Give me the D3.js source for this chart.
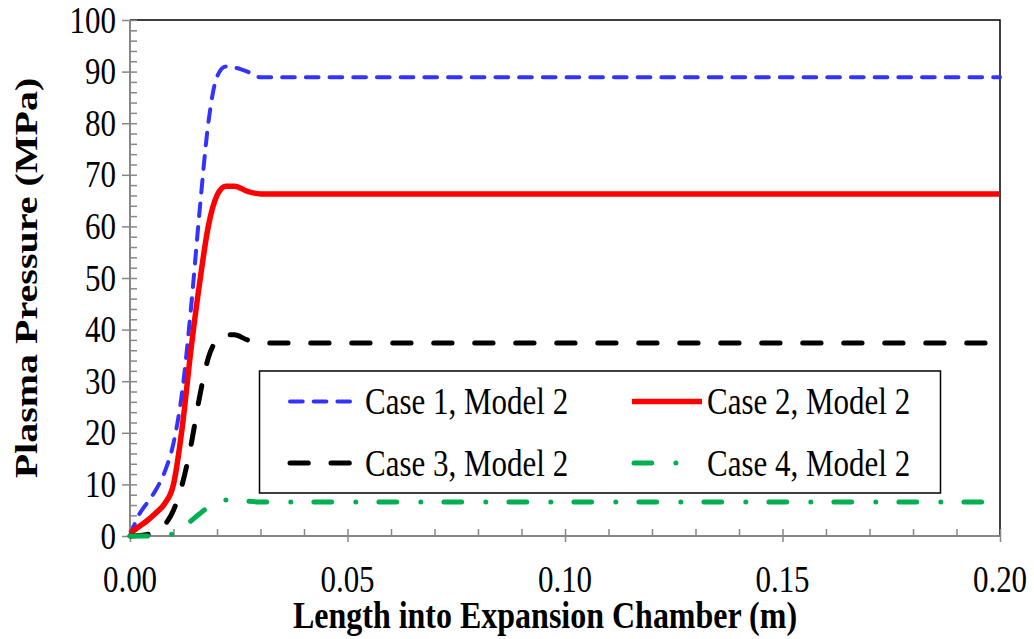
<!DOCTYPE html>
<html><head><meta charset="utf-8">
<script src="https://cdn.jsdelivr.net/npm/d3@7"></script>
<style>body{margin:0;background:#fff}svg{display:block}</style>
</head><body>
<svg id="c" width="1034" height="639"></svg>
<script>
// ---- data ----
const seriesNames = ["Case 1, Model 2", "Case 2, Model 2", "Case 3, Model 2", "Case 4, Model 2"];
const case1X = [0, 0.002, 0.004, 0.006, 0.008, 0.010, 0.012, 0.014, 0.016, 0.018, 0.020, 0.022, 0.024, 0.027, 0.030, 0.20];
const case1Y = [0, 4, 6.5, 9, 12.5, 18, 28, 44, 63, 80, 89, 91, 90.8, 90, 88.9, 88.9];
const case2X = [0, 0.002, 0.004, 0.006, 0.008, 0.010, 0.012, 0.014, 0.016, 0.018, 0.020, 0.022, 0.024, 0.027, 0.030, 0.20];
const case2Y = [0.5, 1.8, 3, 4.5, 6.3, 10, 21, 36, 49, 60, 66, 67.8, 67.8, 66.8, 66.3, 66.3];
const case3X = [0, 0.004, 0.006, 0.008, 0.010, 0.012, 0.014, 0.016, 0.018, 0.020, 0.022, 0.024, 0.027, 0.030, 0.20];
const case3Y = [0, 0.3, 1, 2.2, 5, 10, 17.5, 27, 34.5, 38, 39, 39, 38, 37.4, 37.4];
const case4X = [0, 0.008, 0.010, 0.012, 0.014, 0.016, 0.018, 0.020, 0.022, 0.025, 0.030, 0.20];
const case4Y = [0, 0, 0.5, 1.6, 2.9, 4.3, 5.6, 6.6, 7, 6.9, 6.6, 6.6];
const xTickValues = [0, 0.05, 0.10, 0.15, 0.20];
const xTickLabels = ["0.00", "0.05", "0.10", "0.15", "0.20"];
const yTickValues = [0, 10, 20, 30, 40, 50, 60, 70, 80, 90, 100];
const yTickLabels = ["0", "10", "20", "30", "40", "50", "60", "70", "80", "90", "100"];
const xTitle = "Length into Expansion Chamber (m)";
const yTitle = "Plasma Pressure (MPa)";

// ---- layout / styles ----
const svg = d3.select("#c");
const L = 130, R = 1000, T = 20, B = 536;
const x = d3.scaleLinear().domain([0, 0.2]).range([L, R]);
const y = d3.scaleLinear().domain([0, 100]).range([B, T]);
const axisColor = "#878787";
const font = "'Liberation Serif','Times New Roman',serif";
const SY = 1.2; // vertical stretch of text as in reference

const styles = [
  {color: "#3333ff", width: 4, dash: "12.7,11", cap: "round"},
  {color: "#ff0000", width: 5.5, dash: null, cap: "butt"},
  {color: "#000000", width: 5, dash: "18.3,22.7", cap: "round"},
  {color: "#00b050", width: 5, dash: "17.7,24.2,0,23.1", cap: "round"}
];

// plot border (top/right)
svg.append("path").attr("d", `M${L},${T}H${R}V${B}`).attr("fill", "none")
  .attr("stroke", "#000").attr("stroke-width", 1.5);

// axes
const gx = svg.append("g").attr("transform", `translate(0,${B})`);
gx.append("g").call(d3.axisTop(x).tickValues(d3.range(0, 0.2001, 0.01)).tickSize(7).tickFormat(""));
gx.append("g").call(d3.axisBottom(x).tickValues(xTickValues).tickSize(6).tickFormat(""));
const gy = svg.append("g").attr("transform", `translate(${L},0)`);
gy.append("g").call(d3.axisRight(y).tickValues(d3.range(0, 101, 2)).tickSize(7).tickFormat(""));
gy.append("g").call(d3.axisLeft(y).tickValues(yTickValues).tickSize(8).tickFormat(""));
svg.selectAll(".domain").attr("stroke", axisColor).attr("stroke-width", 1.8);
svg.selectAll(".tick line").attr("stroke", axisColor).attr("stroke-width", 1.5);
svg.selectAll(".domain").filter(function(){return this.parentNode.parentNode===gx.node();}).attr("d", `M${L},0H${R}`);
svg.selectAll(".domain").filter(function(){return this.parentNode.parentNode===gy.node();}).attr("d", `M0,${B}V${T}`);

// tick labels
svg.append("g").selectAll("text").data(xTickValues).join("text")
  .attr("transform", d => `translate(${x(d)},592) scale(1,${SY})`)
  .attr("text-anchor", "middle").attr("font-family", font).attr("font-size", 31)
  .text((d, i) => xTickLabels[i]);
svg.append("g").selectAll("text").data(yTickValues).join("text")
  .attr("transform", d => `translate(116,${y(d)}) scale(1,${SY})`)
  .attr("dy", "0.34em")
  .attr("text-anchor", "end").attr("font-family", font).attr("font-size", 31)
  .text((d, i) => yTickLabels[i]);

// axis titles
svg.append("text").attr("transform", `translate(545,628) scale(1,${SY})`)
  .attr("text-anchor", "middle").attr("font-family", font).attr("font-size", 32)
  .attr("font-weight", "bold").text(xTitle);
svg.append("text").attr("transform", `translate(37,${(T + B) / 2}) rotate(-90) scale(1.25,1)`)
  .attr("text-anchor", "middle").attr("font-family", font).attr("font-size", 32)
  .attr("font-weight", "bold").text(yTitle);

// series
const allX = [case1X, case2X, case3X, case4X];
const allY = [case1Y, case2Y, case3Y, case4Y];
const line = d3.line().x(d => x(d[0])).y(d => y(d[1])).curve(d3.curveMonotoneX);
allX.forEach((xs, i) => {
  const pts = xs.map((v, j) => [v, allY[i][j]]);
  const s = styles[i];
  svg.append("path").datum(pts).attr("d", line).attr("fill", "none")
    .attr("stroke", s.color).attr("stroke-width", s.width)
    .attr("stroke-linecap", s.cap).attr("stroke-linejoin", "round")
    .attr("stroke-dasharray", s.dash);
});

// legend
const lg = svg.append("g");
lg.append("rect").attr("x", 259.5).attr("y", 371).attr("width", 681).attr("height", 122)
  .attr("fill", "#fff").attr("stroke", "#000").attr("stroke-width", 1.5);
const legPos = [
  {x0: 290, x1: 350, y: 401.5, tx: 365},
  {x0: 632, x1: 702, y: 401.5, tx: 707},
  {x0: 290, x1: 351, y: 463, tx: 365},
  {x0: 634, x1: 699, y: 463, tx: 707}
];
seriesNames.forEach((name, i) => {
  const p = legPos[i], s = styles[i];
  lg.append("path").attr("d", `M${p.x0},${p.y}H${p.x1}`).attr("fill", "none")
    .attr("stroke", s.color).attr("stroke-width", s.width)
    .attr("stroke-linecap", s.cap).attr("stroke-dasharray", s.dash);
  lg.append("text").attr("transform", `translate(${p.tx},${p.y}) scale(1,${SY})`)
    .attr("dy", "0.34em").attr("font-family", font).attr("font-size", 31).text(name);
});
</script>
</body></html>
